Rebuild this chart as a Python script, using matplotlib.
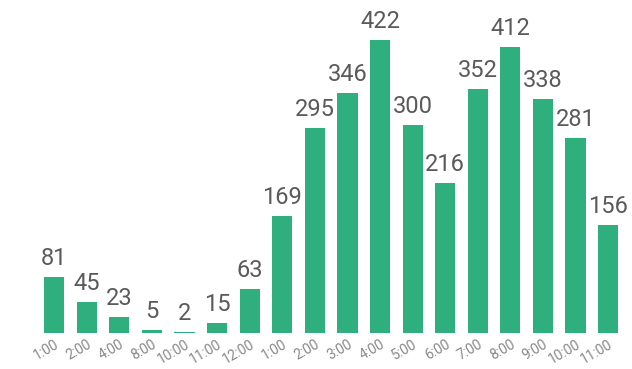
import matplotlib.pyplot as plt

hours = ["1:00", "2:00", "4:00", "8:00", "10:00", "11:00", "12:00", "1:00", "2:00",
         "3:00", "4:00", "5:00", "6:00", "7:00", "8:00", "9:00", "10:00", "11:00"]
counts = [81, 45, 23, 5, 2, 15, 63, 169, 295, 346, 422, 300, 216, 352, 412, 338, 281, 156]

plt.rcParams['font.family'] = ['Roboto', 'DejaVu Sans']

fig = plt.figure(figsize=(6.32, 3.69), dpi=100)
ax = fig.add_axes([0.060, 0.0976, 0.928, 0.846])

x = range(len(counts))
bars = ax.bar(x, counts, width=0.62, color="#2eaf7d")
ax.bar_label(bars, padding=5, fontsize=17, color="#5a5a5a")

ax.set_xlim(-0.5, len(counts) - 0.5)
ax.set_ylim(0, 450)
ax.set_xticks(list(x))
ax.set_xticklabels(hours, rotation=30, ha="right", rotation_mode="anchor",
                   fontsize=10, color="#888888")
ax.tick_params(axis="x", length=0, pad=3)
ax.set_yticks([])
for s in ax.spines.values():
    s.set_visible(False)

fig.savefig("out.png", dpi=100)
